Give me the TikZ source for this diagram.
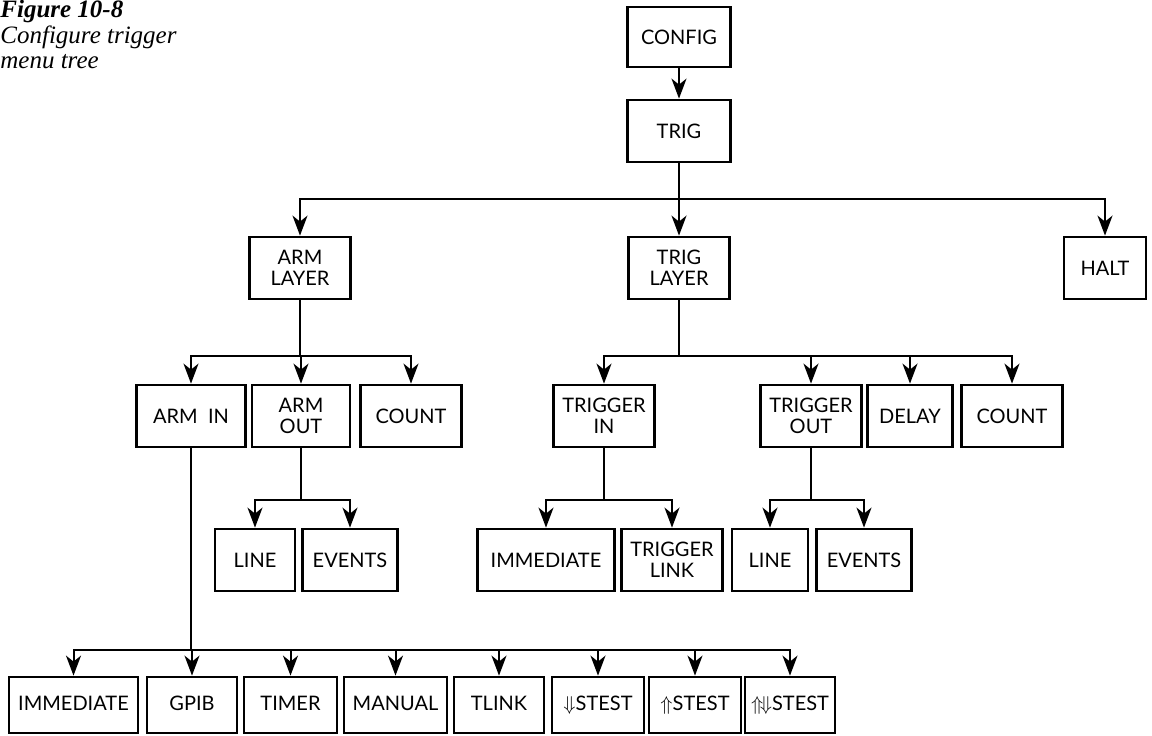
\documentclass[tikz,border=0pt]{standalone}
\usepackage{fontspec}
\setmainfont{Lato}
\newfontfamily\capfont{Liberation Serif}
\usetikzlibrary{arrows.meta}
\begin{document}
\begin{tikzpicture}[x=0.5pt, y=-0.5pt,
  every node/.style={font=\fontsize{10}{10.5}\selectfont},
  menubox/.style={draw, line width=1.4pt, inner sep=0pt, align=center, minimum height=31pt},
  lowbox/.style={menubox, minimum height=28pt, text height=7.5pt, text depth=2pt},
  conn/.style={line width=1pt, -{Stealth[length=10pt,width=7.5pt,inset=3pt]}}]
\useasboundingbox (0,0) rectangle (1152,735);
% caption
\node[anchor=north west, align=left, inner sep=0pt, font=\capfont\itshape\fontsize{12.5}{12.7}\selectfont] (caption) at (0,0) {\textbf{Figure 10-8}\\Configure trigger\\menu tree};
% top of the tree
\node[menubox, minimum width=51.5pt, minimum height=30pt] (config) at (679,37) {CONFIG};
\node[menubox, minimum width=51.5pt] (trig) at (679,131) {TRIG};
\node[menubox, minimum width=50.5pt] (armlayer) at (300,268) {ARM\\LAYER};
\node[menubox, minimum width=50.5pt] (triglayer) at (679,268) {TRIG\\LAYER};
\node[menubox, minimum width=41pt] (halt) at (1105,268) {HALT};
% arm layer
\node[menubox, minimum width=54.5pt] (armin) at (191,416) {ARM\ \ IN};
\node[menubox, minimum width=49pt] (armout) at (301,416) {ARM\\OUT};
\node[menubox, minimum width=50.5pt] (armcount) at (411,416) {COUNT};
\node[menubox, minimum width=40pt] (armline) at (255,560) {LINE};
\node[menubox, minimum width=47.5pt] (armevents) at (350,560) {EVENTS};
% trig layer
\node[menubox, minimum width=50.5pt] (trigin) at (604,416) {TRIGGER\\IN};
\node[menubox, minimum width=50.5pt] (trigout) at (811,416) {TRIGGER\\OUT};
\node[menubox, minimum width=42.5pt] (trigdelay) at (910,416) {DELAY};
\node[menubox, minimum width=50.5pt] (trigcount) at (1012,416) {COUNT};
\node[menubox, minimum width=68.5pt] (trigimm) at (546,560) {IMMEDIATE};
\node[menubox, minimum width=50.5pt] (triglink) at (672,560) {TRIGGER\\LINK};
\node[menubox, minimum width=38pt] (trigline) at (770,560) {LINE};
\node[menubox, minimum width=47.5pt] (trigevents) at (864,560) {EVENTS};
% arm in sources
\node[lowbox, minimum width=64.5pt] (srcimm) at (73.5,705) {IMMEDIATE};
\node[lowbox, minimum width=45pt] (srcgpib) at (192,705) {GPIB};
\node[lowbox, minimum width=46.5pt] (srctimer) at (290.5,705) {TIMER};
\node[lowbox, minimum width=51.5pt] (srcmanual) at (395.5,705) {MANUAL};
\node[lowbox, minimum width=45pt] (srctlink) at (499,705) {TLINK};
\node[lowbox, minimum width=46pt] (srcdn) at (598,705) {$\Downarrow$STEST};
\node[lowbox, minimum width=46pt] (srcup) at (695,705) {$\Uparrow$STEST};
\node[lowbox, minimum width=45pt] (srcupdn) at (790,705) {$\Uparrow\!\Downarrow$STEST};
% connectors
\draw[conn] (config) -- (trig);
\foreach \to in {armlayer,triglayer,halt}
  \draw[conn] (trig.south) -- ++(0,36) -| (\to.north);
\foreach \to in {armin,armout,armcount}
  \draw[conn] (armlayer.south) -- ++(0,56) -| (\to.north);
\foreach \to in {trigin,trigout,trigdelay,trigcount}
  \draw[conn] (triglayer.south) -- ++(0,56) -| (\to.north);
\foreach \to in {armline,armevents}
  \draw[conn] (armout.south) -- ++(0,52) -| (\to.north);
\foreach \to in {trigimm,triglink}
  \draw[conn] (trigin.south) -- ++(0,52) -| (\to.north);
\foreach \to in {trigline,trigevents}
  \draw[conn] (trigout.south) -- ++(0,52) -| (\to.north);
\foreach \to in {srcimm,srcgpib,srctimer,srcmanual,srctlink,srcdn,srcup,srcupdn}
  \draw[conn] (armin.south) -- ++(0,202) -| (\to.north);
\end{tikzpicture}
\end{document}
